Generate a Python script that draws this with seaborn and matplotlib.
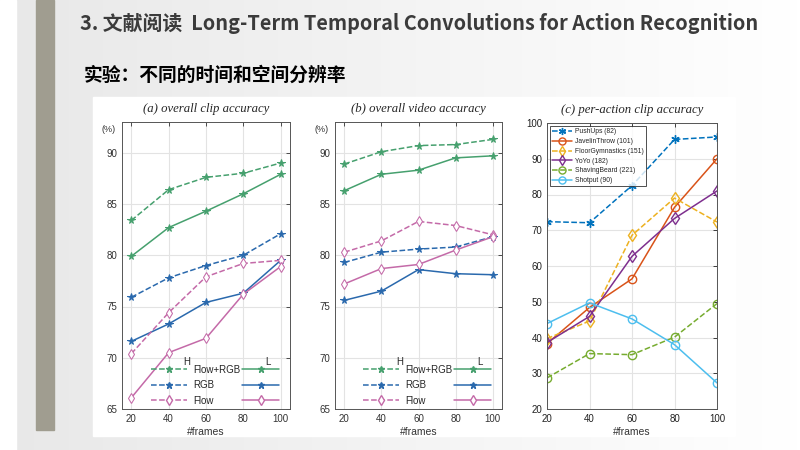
import numpy as np
import pandas as pd
import matplotlib.pyplot as plt
import seaborn as sns
from matplotlib.lines import Line2D
from matplotlib.patches import Rectangle

sns.set_style("white")
plt.rcParams['font.family'] = ['Liberation Sans', 'DejaVu Sans']

# ---- data ----
frames = [20, 40, 60, 80, 100]

# (a) overall clip accuracy
clip_fr_h = [83.4, 86.4, 87.6, 88.0, 89.0]
clip_fr_l = [79.9, 82.7, 84.3, 86.0, 87.9]
clip_rgb_h = [75.9, 77.8, 79.0, 80.0, 82.1]
clip_rgb_l = [71.6, 73.3, 75.4, 76.3, 79.5]
clip_flow_h = [70.4, 74.4, 77.9, 79.2, 79.5]
clip_flow_l = [66.1, 70.5, 71.9, 76.2, 78.9]

# (b) overall video accuracy
vid_fr_h = [88.9, 90.1, 90.7, 90.8, 91.3]
vid_fr_l = [86.3, 87.9, 88.3, 89.5, 89.7]
vid_rgb_h = [79.3, 80.3, 80.6, 80.8, 81.8]
vid_rgb_l = [75.6, 76.5, 78.6, 78.2, 78.1]
vid_flow_h = [80.3, 81.4, 83.3, 82.9, 82.0]
vid_flow_l = [77.2, 78.7, 79.1, 80.5, 81.8]

# (c) per-action clip accuracy
actions = ['PushUps (82)', 'JavelinThrow (101)', 'FloorGymnastics (151)',
           'YoYo (182)', 'ShavingBeard (221)', 'Shotput (90)']
pushups = [72.4, 72.1, 82.5, 95.4, 96.1]
javelin = [38.3, 48.4, 56.4, 76.4, 90.0]
floorgym = [39.7, 44.6, 68.6, 79.0, 72.3]
yoyo = [38.6, 45.9, 62.7, 73.3, 81.0]
shaving = [28.7, 35.5, 35.2, 40.1, 49.5]
shotput = [43.9, 49.7, 45.2, 38.0, 27.3]

groups = ['Flow+RGB', 'RGB', 'Flow']
green, blue, pink = '#46a06e', '#2a69ad', '#c46aa8'
group_colors = [green, blue, pink]
group_markers = ['*', '*', 'd']

fig = plt.figure(figsize=(8, 4.5), dpi=100)
fig.patch.set_facecolor('#ececec')

# slide background: gradient + white picture box + grey ribbon
bg = fig.add_axes([0, 0, 1, 1], zorder=-10)
grad = np.linspace(0.91, 1.0, 256).reshape(1, -1)
bg.imshow(np.dstack([grad] * 3), aspect='auto', extent=[0, 1, 0, 1])
bg.add_patch(Rectangle((0, 0), 0.02, 1, color='white'))
bg.add_patch(Rectangle((93 / 800, 1 - 436 / 450), 642 / 800, 339 / 450, color='white'))
bg.add_patch(Rectangle((36 / 800, 1 - 430 / 450), 18 / 800, 430 / 450, color='#a09d90'))
bg.set_xlim(0, 1)
bg.set_ylim(0, 1)
bg.axis('off')

cjk = ['Noto Sans CJK SC', 'DejaVu Sans']
fig.text(80 / 800, 1 - 23 / 450, '3. 文献阅读  Long-Term Temporal Convolutions for Action Recognition',
         family=cjk, fontsize=14.3, fontweight='bold', color='#3b3b3b', va='center')
fig.text(84 / 800, 1 - 75 / 450, '实验：不同的时间和空间分辨率',
         family=cjk, fontsize=13.5, fontweight='bold', color='black', va='center')


def style_axes(ax, title, ylim, yticks, xlim):
    ax.set_xlim(*xlim)
    ax.set_ylim(*ylim)
    ax.set_xticks(frames)
    ax.set_yticks(yticks)
    ax.grid(True, color='#e3e3e3', linewidth=0.8)
    ax.tick_params(direction='in', length=3, labelsize=7, colors='#333333',
                   top=True, right=True, width=0.6)
    for s in ax.spines.values():
        s.set_color('#555555')
        s.set_linewidth(0.7)
    ax.set_xlabel('#frames', fontsize=7.5, color='#333333', labelpad=2)
    ax.set_ylabel('')
    ax.set_title(title, family='Liberation Serif', style='italic', fontsize=9.2, pad=7)


def pair_panel(ax, title, highs, lows):
    for h, l, c, m, name in zip(highs, lows, group_colors, group_markers, groups):
        mfc = 'white' if m == 'd' else c
        sns.lineplot(x=frames, y=h, ax=ax, color=c, linestyle='--', marker=m,
                     markersize=5.5, markerfacecolor=mfc, markeredgecolor=c, linewidth=1.1)
        sns.lineplot(x=frames, y=l, ax=ax, color=c, linestyle='-', marker=m,
                     markersize=5.5, markerfacecolor=mfc, markeredgecolor=c, linewidth=1.1)
    style_axes(ax, title, (65, 93), [65, 70, 75, 80, 85, 90], (15, 105))
    ax.text(-0.04, 0.975, '(%)', transform=ax.transAxes, fontsize=6.5,
            ha='right', va='center', color='#333333')
    dashed, solid = [], []
    for c, m in zip(group_colors, group_markers):
        mfc = 'white' if m == 'd' else c
        dashed.append(Line2D([], [], color=c, linestyle='--', marker=m, markersize=5,
                             markerfacecolor=mfc, linewidth=1.1))
        solid.append(Line2D([], [], color=c, linestyle='-', marker=m, markersize=5,
                            markerfacecolor=mfc, linewidth=1.1))
    ax.legend(dashed + solid, groups + ['', '', ''], ncol=2, loc='lower right',
              bbox_to_anchor=(1.0, -0.005), frameon=False, fontsize=7,
              handlelength=3.8, handletextpad=0.6, columnspacing=0.2,
              labelspacing=0.55, borderaxespad=0.1)
    ax.text(0.387, 0.165, 'H', transform=ax.transAxes, fontsize=7, ha='center', va='center')
    ax.text(0.869, 0.165, 'L', transform=ax.transAxes, fontsize=7, ha='center', va='center')


ax_a = fig.add_axes([122 / 800, 41 / 450, 168 / 800, 287 / 450])
pair_panel(ax_a, '(a) overall clip accuracy',
           [clip_fr_h, clip_rgb_h, clip_flow_h], [clip_fr_l, clip_rgb_l, clip_flow_l])

ax_b = fig.add_axes([335 / 800, 41 / 450, 167 / 800, 287 / 450])
pair_panel(ax_b, '(b) overall video accuracy',
           [vid_fr_h, vid_rgb_h, vid_flow_h], [vid_fr_l, vid_rgb_l, vid_flow_l])

# (c)
ax_c = fig.add_axes([547 / 800, 41 / 450, 170 / 800, 286 / 450])
series_c = [pushups, javelin, floorgym, yoyo, shaving, shotput]
colors_c = ['#0072BD', '#D95319', '#EDB120', '#7E2F8E', '#77AC30', '#4DBEEE']
styles_c = ['--', '-', '--', '-', '--', '-']
markers_c = [(6, 2, 0), 'o', 'd', 'd', 'o', 'o']
for vals, name, c, ls, m in zip(series_c, actions, colors_c, styles_c, markers_c):
    sns.lineplot(x=frames, y=vals, ax=ax_c, color=c, linestyle=ls, marker=m,
                 markersize=6, markerfacecolor='none', markeredgecolor=c,
                 markeredgewidth=1.0, linewidth=1.1, label=name)
style_axes(ax_c, '(c) per-action clip accuracy', (20, 100),
           [20, 30, 40, 50, 60, 70, 80, 90, 100], (20, 100))
ax_c.tick_params(labelsize=7, colors='#222222')
leg = ax_c.legend(loc='upper left', fontsize=4.9, frameon=True, fancybox=False,
                  handlelength=2.8, labelspacing=0.4, borderpad=0.35,
                  borderaxespad=0.45, handletextpad=0.5, markerscale=0.85)
leg.get_frame().set_edgecolor('#222222')
leg.get_frame().set_linewidth(0.7)

fig.savefig('out.png', dpi=100)
